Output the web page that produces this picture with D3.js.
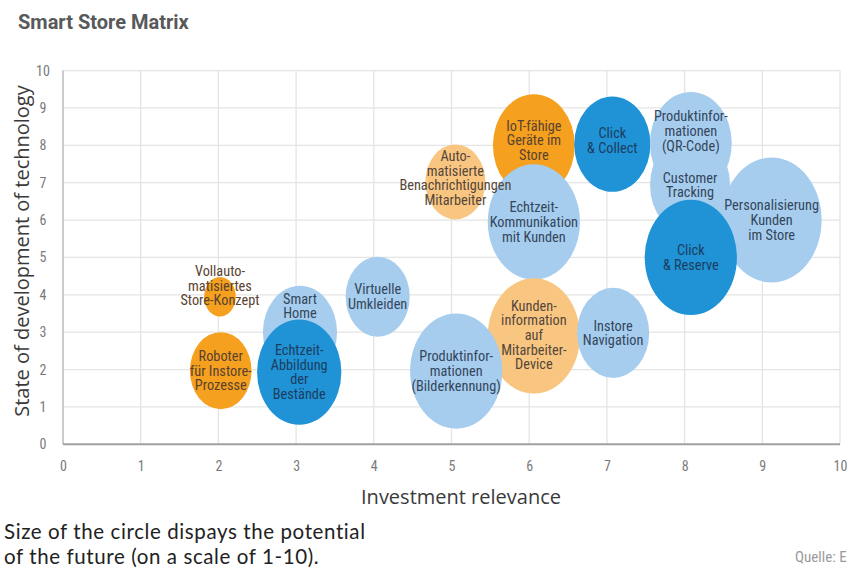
<!DOCTYPE html>
<html>
<head>
<meta charset="utf-8">
<script src="https://cdn.jsdelivr.net/npm/d3@7"></script>
<style>
  html, body { margin: 0; padding: 0; background: #ffffff; }
  svg { display: block; }
  .cond { font-family: "Roboto Condensed", "Liberation Sans Narrow", "DejaVu Sans Condensed", "Roboto", sans-serif; font-stretch: condensed; }
</style>
</head>
<body>
<svg id="chart" width="850" height="571"></svg>
<script>
// ---- data ----
const names = [
  "Vollauto-|matisiertes|Store-Konzept",
  "Roboter|für Instore-|Prozesse",
  "Smart|Home",
  "Echtzeit-|Abbildung|der|Bestände",
  "Virtuelle|Umkleiden",
  "Auto-|matisierte|Benachrichtigungen|Mitarbeiter",
  "IoT-fähige|Geräte im|Store",
  "Echtzeit-|Kommunikation|mit Kunden",
  "Click|& Collect",
  "Customer|Tracking",
  "Produktinfor-|mationen|(QR-Code)",
  "Personalisierung|Kunden|im Store",
  "Click|& Reserve",
  "Kunden-|information|auf|Mitarbeiter-|Device",
  "Instore|Navigation",
  "Produktinfor-|mationen|(Bilderkennung)"
];
const investment = [2.02, 2.03, 3.05, 3.04, 4.05, 5.05, 6.06, 6.06, 7.07, 8.07, 8.08, 9.12, 8.08, 6.06, 7.08, 5.06];
const technology = [3.95, 1.97, 3.0, 1.93, 3.95, 7.02, 8.0, 5.95, 8.03, 6.94, 8.06, 6.0, 5.0, 2.9, 2.98, 1.96];
const potential  = [1.0, 3.8, 5.5, 7.1, 4.1, 3.6, 6.7, 8.5, 5.8, 6.4, 6.7, 10, 8.5, 8.5, 5.2, 8.5];
const group      = ["orange","orange","light","dark","light","lightorange","orange","light","dark","light","light","light","dark","lightorange","light","light"];
const xTicks = [0,1,2,3,4,5,6,7,8,9,10];
const yTicks = [0,1,2,3,4,5,6,7,8,9,10];

// ---- styling / layout (not data) ----
const colors = { orange: "#f5a01e", lightorange: "#f9c681", dark: "#1f93d6", light: "#a6cdee" };
const textColors = { orange: "#5a4230", lightorange: "#54473b", dark: "#1c3d60", light: "#34465b" };
const labelShift = { 0: -11, 2: -26, 10: -12, 5: -4, 8: -4, 6: -5, 13: -1 };

const svg = d3.select("#chart");
const x = d3.scaleLinear().domain([0, 10]).range([63, 840]);
const y = d3.scaleLinear().domain([0, 10]).range([444.3, 70.6]);
const r = d3.scaleSqrt().domain([0, 10]).range([0, 50]);
const aspect = 1.25;

// title
svg.append("text").attr("x", 18).attr("y", 29)
  .style("font-family", "Roboto, 'Noto Sans', sans-serif")
  .style("font-size", "20px").style("font-weight", "bold").style("fill", "#58595b")
  .text("Smart Store Matrix");

// grid
const grid = svg.append("g");
grid.selectAll("line.v").data(xTicks.slice(1)).join("line")
  .attr("x1", d => x(d)).attr("x2", d => x(d))
  .attr("y1", y(10)).attr("y2", y(0))
  .attr("stroke", "#e4e4e4").attr("stroke-width", 1.3);
grid.selectAll("line.h").data(yTicks.slice(1)).join("line")
  .attr("x1", x(0)).attr("x2", x(10))
  .attr("y1", d => y(d)).attr("y2", d => y(d))
  .attr("stroke", "#e4e4e4").attr("stroke-width", 1.3);

// axes lines
svg.append("line").attr("x1", x(0)).attr("x2", x(0)).attr("y1", y(10)).attr("y2", y(0))
  .attr("stroke", "#b0b0b0").attr("stroke-width", 1.3);
svg.append("line").attr("x1", x(0)).attr("x2", x(10)).attr("y1", y(0)).attr("y2", y(0))
  .attr("stroke", "#a0a0a0").attr("stroke-width", 2);

// tick labels via d3 axes (domain/ticks hidden)
const xAxis = svg.append("g").attr("transform", `translate(0,${y(0) + 14})`)
  .call(d3.axisBottom(x).tickValues(xTicks).tickSize(0).tickFormat(d3.format("d")));
const yAxis = svg.append("g").attr("transform", `translate(${x(0) - 13},0)`)
  .call(d3.axisLeft(y).tickValues(yTicks).tickSize(0).tickFormat(d3.format("d")));
[xAxis, yAxis].forEach(a => {
  a.select(".domain").remove();
  a.selectAll("text").attr("class", "cond").style("font-size", "14px").style("fill", "#7a7a7a");
});
yAxis.selectAll("text").attr("text-anchor", "middle").attr("dx", "-4");

// axis titles
svg.append("text").attr("transform", `translate(29,251) rotate(-90)`)
  .attr("text-anchor", "middle")
  .style("font-family", "'Open Sans', 'Noto Sans', sans-serif").style("font-size", "20px").style("fill", "#3a3a3a")
  .text("State of development of technology");
svg.append("text").attr("x", 461).attr("y", 504)
  .attr("text-anchor", "middle")
  .style("font-family", "'Open Sans', 'Noto Sans', sans-serif").style("font-size", "20px").style("fill", "#3a3a3a")
  .text("Investment relevance");

// bubbles
const items = names.map((n, i) => ({ i, lines: n.split("|"), x: investment[i], y: technology[i], p: potential[i], g: group[i] }));
svg.append("g").selectAll("ellipse").data(items).join("ellipse")
  .attr("cx", d => x(d.x)).attr("cy", d => y(d.y))
  .attr("rx", d => r(d.p)).attr("ry", d => r(d.p) * aspect)
  .attr("fill", d => colors[d.g]);

// labels
const lh = 14.6;
const lbl = svg.append("g").selectAll("text").data(items).join("text")
  .attr("class", "cond")
  .attr("text-anchor", "middle")
  .style("font-size", "14.3px").style("fill", d => textColors[d.g])
  .attr("x", d => x(d.x))
  .attr("y", d => y(d.y) + (labelShift[d.i] || 0) - (d.lines.length - 1) * lh / 2 + 5);
lbl.selectAll("tspan").data(d => d.lines.map(l => ({ l, d }))).join("tspan")
  .attr("x", t => x(t.d.x)).attr("dy", (t, j) => j === 0 ? 0 : lh)
  .text(t => t.l);

// footer (two separate text lines)
const footLines = ["Size of the circle dispays the potential", "of the future (on a scale of 1-10)."];
svg.append("g").selectAll("text").data(footLines).join("text")
  .attr("x", 4).attr("y", (d, i) => 539 + i * 25)
  .style("font-family", "Lato, 'Open Sans', sans-serif")
  .style("font-size", "20.5px").style("letter-spacing", "0.6px").style("fill", "#222")
  .text(d => d);
svg.append("text").attr("x", 795).attr("y", 562).attr("class", "cond")
  .style("font-size", "15px").style("fill", "#9a9a9a").text("Quelle: E");
</script>
</body>
</html>
